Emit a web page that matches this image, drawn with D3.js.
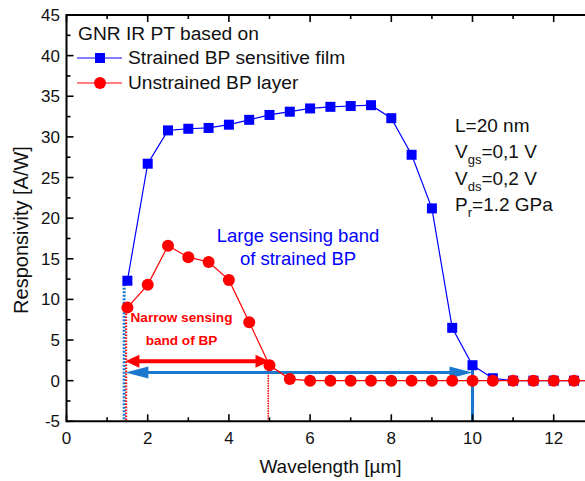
<!DOCTYPE html>
<html>
<head>
<meta charset="utf-8">
<script src="https://cdn.jsdelivr.net/npm/d3@7"></script>
<style>
  html, body { margin: 0; padding: 0; background: #fff; }
  svg { display: block; font-family: "Liberation Sans", Arial, sans-serif; }
</style>
</head>
<body>
<svg id="chart" width="585" height="481"></svg>
<script>
// Wavelength grid (µm) shared by both series
const wavelength = [1.5, 2, 2.5, 3, 3.5, 4, 4.5, 5, 5.5, 6, 6.5, 7, 7.5, 8, 8.5, 9, 9.5, 10, 10.5, 11, 11.5, 12, 12.5, 13];
// Responsivity (A/W) of the photodetector with strained BP film
const strainedBP = [12.3, 26.7, 30.8, 31.0, 31.1, 31.5, 32.1, 32.7, 33.1, 33.5, 33.7, 33.8, 33.9, 32.3, 27.8, 21.2, 6.5, 1.9, 0.3, 0, 0, 0, 0, 0];
// Responsivity (A/W) of the photodetector with unstrained BP layer
const unstrainedBP = [9.0, 11.8, 16.6, 15.2, 14.6, 12.4, 7.2, 1.9, 0.2, 0, 0, 0, 0, 0, 0, 0, 0, 0, 0, 0, 0, 0, 0, 0];

// Sensing band limits (µm) and the responsivity levels the band arrows sit at
const bandStart = 1.45;
const narrowBandEnd = 5;
const largeBandEnd = 10;
const narrowArrowLevel = 2.4;
const largeArrowLevel = 1.0;

const xTicksMajor = [0, 2, 4, 6, 8, 10, 12];
const yTicksMajor = [-5, 0, 5, 10, 15, 20, 25, 30, 35, 40, 45];

const legendTitle = "GNR IR PT based on";
const seriesNames = ["Strained BP sensitive film", "Unstrained BP layer"];

const svg = d3.select("#chart");
const plotLeft = 66.5, plotTop = 15, plotBottom = 421.3;

const x = d3.scaleLinear().domain([0, 13]).range([plotLeft, plotLeft + 13 * 40.6]);
const y = d3.scaleLinear().domain([-5, 45]).range([plotBottom, plotTop]);

const BLUE = "#0000ff", RED = "#ff0000", ARROW_BLUE = "#1c78cc";

// ---- annotation guides (drawn beneath the data) ----
const ann = svg.append("g");
// vertical band limits
ann.append("line")
  .attr("x1", x(bandStart - 0.03)).attr("x2", x(bandStart - 0.03))
  .attr("y1", y(strainedBP[0])).attr("y2", y(-5))
  .attr("stroke", ARROW_BLUE).attr("stroke-width", 3).attr("stroke-dasharray", "2,1.5");
ann.append("line")
  .attr("x1", x(bandStart + 0.02)).attr("x2", x(bandStart + 0.02))
  .attr("y1", y(unstrainedBP[0])).attr("y2", y(-5))
  .attr("stroke", RED).attr("stroke-width", 2).attr("stroke-dasharray", "1.5,1.5");
ann.append("line")
  .attr("x1", x(narrowBandEnd - 0.03)).attr("x2", x(narrowBandEnd - 0.03))
  .attr("y1", y(unstrainedBP[7])).attr("y2", y(-5))
  .attr("stroke", RED).attr("stroke-width", 1.6).attr("stroke-dasharray", "1.5,1");
ann.append("line")
  .attr("x1", x(largeBandEnd)).attr("x2", x(largeBandEnd))
  .attr("y1", y(strainedBP[17])).attr("y2", y(-5))
  .attr("stroke", ARROW_BLUE).attr("stroke-width", 3);

// arrow helper: shaft plus filled triangular heads
function arrow(g, x0, x1, yy, color, width, headLen, headHalf) {
  g.append("line")
    .attr("x1", x0 + headLen - 2).attr("x2", x1 - headLen + 2)
    .attr("y1", yy).attr("y2", yy)
    .attr("stroke", color).attr("stroke-width", width);
  g.append("path")
    .attr("d", `M${x1},${yy} L${x1 - headLen},${yy - headHalf} L${x1 - headLen},${yy + headHalf} Z`)
    .attr("fill", color);
  g.append("path")
    .attr("d", `M${x0},${yy} L${x0 + headLen},${yy - headHalf} L${x0 + headLen},${yy + headHalf} Z`)
    .attr("fill", color);
}
arrow(ann, x(bandStart), x(largeBandEnd), y(largeArrowLevel), ARROW_BLUE, 3, 23, 6);
arrow(ann, x(bandStart), x(narrowBandEnd), y(narrowArrowLevel), RED, 4, 14, 6.5);

// ---- axes ----
const axes = svg.append("g").attr("fill", "none").attr("stroke", "#000");
axes.append("line").attr("x1", plotLeft).attr("x2", 585).attr("y1", plotTop).attr("y2", plotTop).attr("stroke-width", 2);
axes.append("line").attr("x1", plotLeft).attr("x2", 585).attr("y1", plotBottom).attr("y2", plotBottom).attr("stroke-width", 2);
axes.append("line").attr("x1", plotLeft).attr("x2", plotLeft).attr("y1", plotTop - 1).attr("y2", plotBottom + 1).attr("stroke-width", 2);

const xMinor = d3.range(0, 14, 1);
const yMinor = d3.range(-5, 45.1, 2.5);
const tickG = svg.append("g").attr("stroke", "#000").attr("stroke-width", 1.6);
xMinor.forEach(v => {
  const len = v % 2 === 0 ? 7 : 4;
  tickG.append("line").attr("x1", x(v)).attr("x2", x(v)).attr("y1", plotBottom).attr("y2", plotBottom - len);
  tickG.append("line").attr("x1", x(v)).attr("x2", x(v)).attr("y1", plotTop).attr("y2", plotTop + len);
});
yMinor.forEach(v => {
  const len = v % 5 === 0 ? 7 : 4;
  tickG.append("line").attr("x1", plotLeft).attr("x2", plotLeft + len).attr("y1", y(v)).attr("y2", y(v));
});

svg.append("g").selectAll("text").data(xTicksMajor).join("text")
  .attr("x", d => x(d)).attr("y", 443.5).attr("text-anchor", "middle")
  .attr("font-size", 17).attr("fill", "#111").text(d => d);
svg.append("g").selectAll("text").data(yTicksMajor).join("text")
  .attr("x", 60).attr("y", d => y(d) + 6).attr("text-anchor", "end")
  .attr("font-size", 17).attr("fill", "#111").text(d => d);

svg.append("text").attr("x", 330.5).attr("y", 473).attr("text-anchor", "middle")
  .attr("font-size", 19).attr("fill", "#111").text("Wavelength [µm]");
svg.append("text").attr("transform", "translate(28,230) rotate(-90)").attr("text-anchor", "middle")
  .attr("font-size", 20).attr("fill", "#111").text("Responsivity [A/W]");

// ---- data series ----
const line = d3.line().x((d, i) => x(wavelength[i])).y(d => y(d));
svg.append("path").datum(strainedBP).attr("d", line)
  .attr("fill", "none").attr("stroke", BLUE).attr("stroke-width", 1.2);
svg.append("g").selectAll("rect").data(strainedBP).join("rect")
  .attr("x", (d, i) => x(wavelength[i]) - 5).attr("y", d => y(d) - 5)
  .attr("width", 10).attr("height", 10).attr("fill", BLUE);

svg.append("path").datum(unstrainedBP).attr("d", line)
  .attr("fill", "none").attr("stroke", RED).attr("stroke-width", 1.2);
svg.append("g").selectAll("circle").data(unstrainedBP).join("circle")
  .attr("cx", (d, i) => x(wavelength[i])).attr("cy", d => y(d))
  .attr("r", 6).attr("fill", RED);

// ---- legend ----
const lg = svg.append("g").attr("font-size", 19.2).attr("fill", "#111");
lg.append("text").attr("x", 78).attr("y", 40).text(legendTitle);
[[BLUE, 58, "square"], [RED, 83, "circle"]].forEach(([c, ly, shape], k) => {
  lg.append("line").attr("x1", 77).attr("x2", 122).attr("y1", ly).attr("y2", ly)
    .attr("stroke", c).attr("stroke-width", 1.2);
  if (shape === "square") {
    lg.append("rect").attr("x", 95).attr("y", ly - 5).attr("width", 10).attr("height", 10).attr("fill", c);
  } else {
    lg.append("circle").attr("cx", 100).attr("cy", ly).attr("r", 6).attr("fill", c);
  }
  lg.append("text").attr("x", 128).attr("y", ly + 6).text(seriesNames[k]);
});

// ---- device parameters ----
const pg = svg.append("g").attr("font-size", 19).attr("fill", "#111");
pg.append("text").attr("x", 455).attr("y", 131.5).text("L=20 nm");
function subLabel(yy, main, sub, rest) {
  const t = pg.append("text").attr("x", 455).attr("y", yy);
  t.append("tspan").text(main);
  t.append("tspan").attr("font-size", 13).attr("dy", 6).text(sub);
  t.append("tspan").attr("dy", -6).text(rest);
}
subLabel(158.3, "V", "gs", "=0,1 V");
subLabel(185, "V", "ds", "=0,2 V");
subLabel(211, "P", "r", "=1.2 GPa");

// ---- band captions ----
const bl = svg.append("g").attr("font-size", 18.5).attr("fill", BLUE).attr("text-anchor", "middle");
bl.append("text").attr("x", 298).attr("y", 241.5).text("Large sensing band");
bl.append("text").attr("x", 298).attr("y", 265).text("of strained BP");

const rl = svg.append("g").attr("font-size", 13.6).attr("fill", RED).attr("text-anchor", "middle")
  .attr("font-weight", "bold").attr("font-family", "'Liberation Sans Narrow', 'Liberation Sans', Arial, sans-serif");
rl.append("text").attr("x", 181.5).attr("y", 321.5).text("Narrow sensing");
rl.append("text").attr("x", 181.5).attr("y", 345).text("band of BP");
</script>
</body>
</html>
